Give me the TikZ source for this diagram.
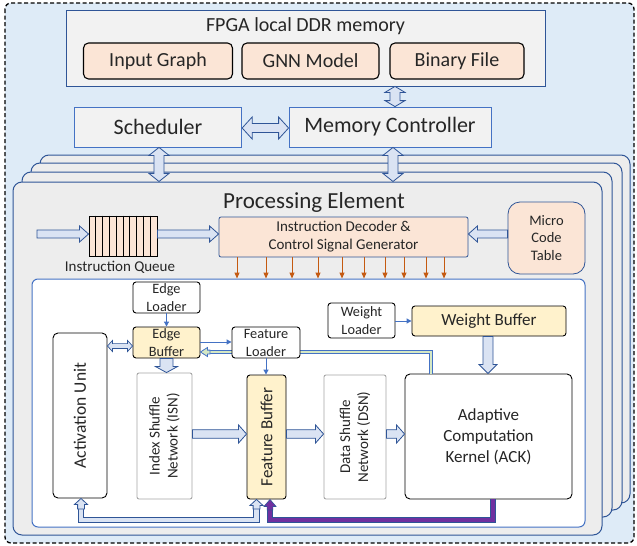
\documentclass[tikz,border=0pt]{standalone}
\usepackage{fontspec}
\setmainfont{Carlito}
\usetikzlibrary{calc,arrows.meta}
\definecolor{bgblue}{HTML}{DEEBF7}
\definecolor{cardgray}{HTML}{EDEDED}
\definecolor{boxgray}{HTML}{F2F2F2}
\definecolor{peach}{HTML}{FBE5D6}
\definecolor{lyellow}{HTML}{FFF2CC}
\definecolor{dblue}{HTML}{2F5597}
\definecolor{mblue}{HTML}{4472C4}
\definecolor{afill}{HTML}{DAE3F3}
\definecolor{orng}{HTML}{C55A11}
\definecolor{purp}{HTML}{7030A0}
\definecolor{lgreen}{HTML}{D5E8C4}
\definecolor{isngray}{HTML}{A6A6A6}
\definecolor{txt}{HTML}{262626}
\newcommand\fs[2]{\fontsize{#1}{#2}\selectfont}
% single hollow arrow: [style] from, to, shaft half, head half, head length
\newcommand\fatarrow[6][]{%
  \coordinate (faC) at ($(#3)!#6!(#2)$);
  \draw[fatarr,#1] ($(#2)!#4!90:(#3)$) -- ($(faC)!#4!90:(#3)$) -- ($(faC)!#5!90:(#3)$) -- (#3) -- ($(faC)!#5!-90:(#3)$) -- ($(faC)!#4!-90:(#3)$) -- ($(#2)!#4!-90:(#3)$) -- cycle;
}
% double hollow arrow
\newcommand\fatdarrow[6][]{%
  \coordinate (faC) at ($(#2)!#6!(#3)$);
  \coordinate (faD) at ($(#3)!#6!(#2)$);
  \draw[fatarr,#1] (#2) -- ($(faC)!#5!90:(#3)$) -- ($(faC)!#4!90:(#3)$) -- ($(faD)!#4!90:(#3)$) -- ($(faD)!#5!90:(#3)$) -- (#3) -- ($(faD)!#5!-90:(#3)$) -- ($(faD)!#4!-90:(#3)$) -- ($(faC)!#4!-90:(#3)$) -- ($(faC)!#5!-90:(#3)$) -- cycle;
}
\begin{document}
\begin{tikzpicture}[x=1pt,y=-1pt,
  every node/.style={text=txt},
  fatarr/.style={draw=dblue, fill=afill, line width=0.8pt, line join=miter},
  lbl/.style={inner sep=0pt, align=center},
  bx/.style={draw=black, line width=0.9pt, inner sep=0pt, align=center, rounded corners=3pt},
  peachbox/.style={bx, fill=peach, line width=1.1pt, rounded corners=5pt, font=\fs{20}{24}},
  graybox/.style={draw=mblue, fill=boxgray, line width=0.8pt, inner sep=0pt, align=center},
  card/.style={draw=dblue, fill=cardgray, line width=1pt, rounded corners=9pt},
  ybox/.style={bx, fill=lyellow},
  wbox/.style={bx, fill=white},
  snbox/.style={draw=isngray, fill=white, line width=0.9pt, inner sep=0pt, rounded corners=2pt},
  thin/.style={draw=mblue, line width=1pt, -{Triangle[length=5pt,width=5pt]}},
  orarr/.style={draw=orng, line width=1pt, -{Triangle[length=6pt,width=5pt]}},
  small/.style={font=\fs{14.3}{18}}
]
\useasboundingbox (0,0) rectangle (637,546);
% background
\fill[bgblue, rounded corners=6pt] (5,3) rectangle (634,543);
\draw[black, line width=1.3pt, dash pattern=on 4pt off 2.5pt, rounded corners=6pt] (5,3) rectangle (634,543);

% DDR memory
\node[graybox, draw=dblue, minimum width=479pt, minimum height=76pt] (ddr) at (305.5,48) {};
\node[lbl, font=\fs{20}{24}] (ddrt) at (305.5,26) {FPGA local DDR memory};
\node[peachbox, minimum width=149pt, minimum height=36pt] (ig) at (158,61) {Input Graph};
\node[peachbox, minimum width=137pt, minimum height=36pt] (gnn) at (310.5,61) {GNN Model};
\node[peachbox, minimum width=134pt, minimum height=36pt] (bf) at (457,61) {Binary File};

% scheduler & memory controller
\node[graybox, minimum width=167.5pt, minimum height=40pt, font=\fs{22}{26}] (sched) at (158,127) {Scheduler};
\node[graybox, minimum width=202pt, minimum height=40pt, font=\fs{22}{26}] (mc) at (390,127) {Memory Controller};

% processing element cards
\node[card, minimum width=590pt, minimum height=348pt] (c4) at (335,329) {};
\node[card, minimum width=591pt, minimum height=347pt] (c3) at (326.5,336.5) {};
\node[card, minimum width=590pt, minimum height=345pt] (c2) at (317,344.5) {};
\node[card, minimum width=589pt, minimum height=353pt] (pe) at (307.5,358.5) {};
\node[lbl, font=\fs{23}{27}] (pet) at (314,202) {Processing Element};

% top arrows
\coordinate (a1s) at (ddr.south -| 395,0);
\coordinate (a1e) at (mc.north -| 395,0);
\fatdarrow{a1s}{a1e}{5pt}{10pt}{6pt}
\coordinate (a2s) at (sched.east |- 0,128);
\coordinate (a2e) at (mc.west |- 0,128);
\fatdarrow{a2s}{a2e}{4.5pt}{11pt}{10pt}
\coordinate (a3s) at (sched.south -| 159,0);
\coordinate (a3e) at (pe.north -| 159,0);
\fatdarrow{a3s}{a3e}{5pt}{10pt}{8pt}
\coordinate (a4s) at (mc.south -| 393,0);
\coordinate (a4e) at (pe.north -| 393,0);
\fatdarrow{a4s}{a4e}{5pt}{10pt}{8pt}

% instruction queue, decoder, micro code table
\node[bx, fill=peach, rounded corners=0pt, minimum width=68pt, minimum height=40pt] (queue) at (123,236) {};
\foreach \i in {1,...,9}
  \draw[line width=0.9pt] ($(queue.north west)!\i/10!(queue.north east)$) -- ($(queue.south west)!\i/10!(queue.south east)$);
\node[lbl, font=\fs{15}{18}] (qlbl) at (120,267) {Instruction Queue};
\node[graybox, draw=dblue, fill=peach, rounded corners=2pt, minimum width=249pt, minimum height=40pt, font=\fs{15}{18}] (dec) at (343.5,237) {Instruction Decoder \&\\Control Signal Generator};
\node[graybox, draw=dblue, fill=peach, rounded corners=12pt, minimum width=77pt, minimum height=72pt, font=\fs{14.5}{17.7}] (mct) at (546.5,238) {Micro\\Code\\Table};

\coordinate (qin) at (37,234);
\coordinate (qw) at (queue.west |- 0,234);
\fatarrow{qin}{qw}{4pt}{8pt}{9pt}
\coordinate (qe) at (queue.east |- 0,234);
\coordinate (dw) at (dec.west |- 0,234);
\fatarrow{qe}{dw}{4pt}{8pt}{9pt}
\coordinate (mw) at (mct.west |- 0,234);
\coordinate (de) at (dec.east |- 0,234);
\fatarrow{mw}{de}{4pt}{8pt}{9pt}

% inner panel
\node[draw=mblue, fill=white, line width=1pt, rounded corners=6pt, minimum width=553pt, minimum height=248pt] (panel) at (308.5,403) {};
\foreach \x in {237,266,292,318,342,364,385,404,426,444}
  \draw[orarr] (\x,0 |- dec.south) -- (\x,0 |- panel.north);

% inner blocks
\node[wbox, small, minimum width=67pt, minimum height=31pt] (el) at (166.5,297.5) {Edge\\Loader};
\node[ybox, small, minimum width=67pt, minimum height=31pt] (eb) at (166.5,342.5) {Edge\\Buffer};
\node[wbox, rounded corners=5pt, minimum width=54pt, minimum height=165pt] (act) at (80,415.5) {};
\node[lbl, rotate=90, font=\fs{17.5}{21}] (actt) at (act.center) {Activation Unit};
\node[snbox, minimum width=55pt, minimum height=126pt] (isn) at (164.5,436) {};
\node[lbl, rotate=90, font=\fs{15}{18}] (isnt) at (isn.center) {Index Shuffle\\Network (ISN)};
\node[ybox, minimum width=39pt, minimum height=124pt] (fb) at (266.5,437) {};
\node[lbl, rotate=90, font=\fs{17}{20}] (fbt) at (fb.center) {Feature Buffer};
\node[wbox, small, minimum width=67pt, minimum height=35pt] (wl) at (361.5,320.5) {Weight\\Loader};
\node[ybox, minimum width=154pt, minimum height=30pt, font=\fs{17}{20}] (wb) at (489,321) {Weight Buffer};
\node[snbox, minimum width=62pt, minimum height=124pt] (dsn) at (355,437) {};
\node[lbl, rotate=90, font=\fs{15}{18}] (dsnt) at (dsn.center) {Data Shuffle\\Network (DSN)};
\node[wbox, rounded corners=5pt, minimum width=167pt, minimum height=125pt, font=\fs{17}{21}] (ack) at (488.5,436.5) {Adaptive\\Computation\\Kernel (ACK)};

% feedback line ACK -> Edge Buffer (behind Feature Loader)
\coordinate (gs) at (ack.north -| 431,0);
\coordinate (gm) at (210,352);
\draw[draw=mblue, double=lgreen, double distance=1.8pt, line width=1pt, line join=miter] (gs) |- (gm);
\coordinate (gh) at (eb.east |- 0,352);
\fatarrow[fill=lgreen, draw=mblue, line width=0.8pt]{gm}{gh}{1.9pt}{4.5pt}{7pt}

\node[wbox, small, minimum width=68pt, minimum height=31pt] (fl) at (266,342.5) {Feature\\Loader};

% thin arrows
\draw[thin] (el.south) -- (eb.north);
\draw[thin] (eb.east |- 0,342) -- (fl.west |- 0,342);
\draw[thin] (fl.south) -- (fl.south |- fb.north);
\draw[thin] (wl.east |- 0,321) -- (wb.west |- 0,321);

% hollow arrows inside
\coordinate (b1s) at (act.east |- 0,346);
\coordinate (b1e) at (eb.west |- 0,346);
\fatdarrow[line width=0.7pt]{b1s}{b1e}{2.4pt}{5.5pt}{5pt}
\coordinate (b2s) at (eb.south);
\coordinate (b2e) at (eb.south |- isn.north);
\fatarrow{b2s}{b2e}{6.5pt}{11pt}{6pt}
\coordinate (b3s) at (isn.east |- 0,434);
\coordinate (b3e) at (fb.west |- 0,434);
\fatarrow{b3s}{b3e}{4.3pt}{9pt}{8pt}
\coordinate (b4s) at (fb.east |- 0,434);
\coordinate (b4e) at (dsn.west |- 0,434);
\fatarrow{b4s}{b4e}{4.3pt}{9pt}{8pt}
\coordinate (b5s) at (dsn.east |- 0,434);
\coordinate (b5e) at (ack.west |- 0,434);
\fatarrow{b5s}{b5e}{4.3pt}{9pt}{8pt}
\coordinate (b6s) at (wb.south -| 488,0);
\coordinate (b6e) at (ack.north -| 488,0);
\fatarrow{b6s}{b6e}{5pt}{9pt}{9pt}

% bottom pipe Feature Buffer <-> Activation Unit
\coordinate (p1) at (256.5,509);
\coordinate (p2) at (81,509);
\draw[draw=dblue, double=afill, double distance=4.8pt, line width=1pt, line join=miter] (p1) |- (81,520) -- (p2);
\coordinate (p1e) at (fb.south -| 256.5,0);
\coordinate (p2e) at (act.south -| 81,0);
\fatarrow[line width=0.8pt]{p1}{p1e}{3.4pt}{6.5pt}{6pt}
\fatarrow[line width=0.8pt]{p2}{p2e}{3.4pt}{6.5pt}{6pt}

% purple ACK -> Feature Buffer
\coordinate (q1) at (ack.south -| 493,0);
\coordinate (q2) at (270,510);
\draw[draw=dblue, double=purp, double distance=4.6pt, line width=0.6pt, line join=miter] (q1) |- (270,520) -- (q2);
\coordinate (q2e) at (fb.south -| 270,0);
\fatarrow[fill=purp, draw=dblue, line width=0.6pt]{q2}{q2e}{2.9pt}{6pt}{7pt}
\end{tikzpicture}
\end{document}
